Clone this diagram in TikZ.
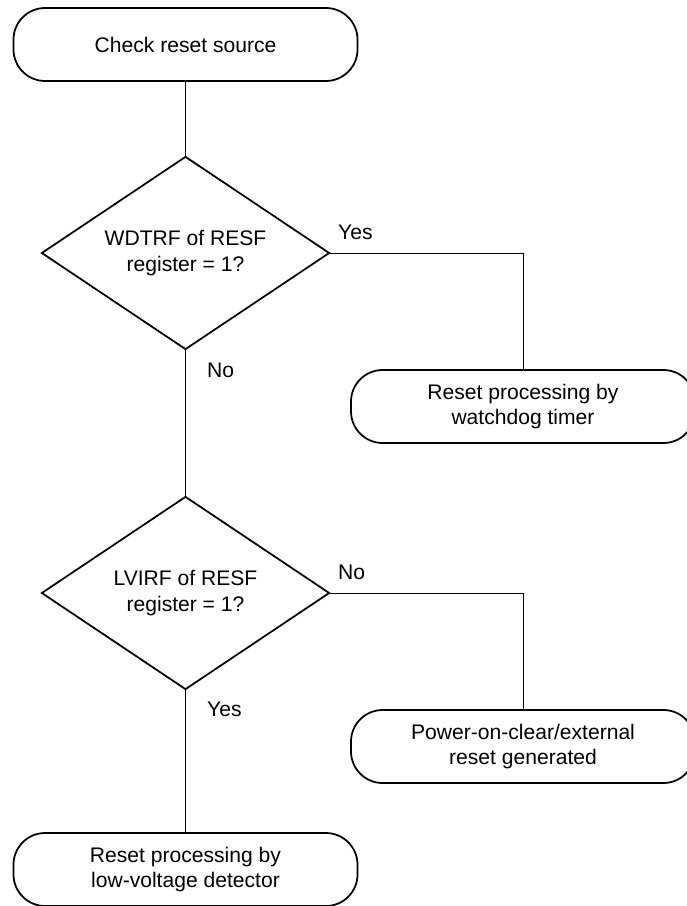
\documentclass[tikz,border=0pt]{standalone}
\usepackage{fontspec}
\setmainfont{Liberation Sans}
\usetikzlibrary{shapes.geometric}

\tikzset{
  term/.style={draw, line width=1.5pt, rounded corners=27pt, minimum width=10.32cm,
    minimum height=2.19cm, align=center, inner sep=0pt},
  decide/.style={draw, diamond, aspect=1.5, line width=1.5pt, minimum width=8.64cm,
    minimum height=5.79cm, align=center, inner sep=0pt},
  flow/.style={line width=0.7pt},
  tag/.style={anchor=west, inner sep=0pt},
}

\begin{document}
\begin{tikzpicture}[x=0.03cm, y=-0.03cm, font=\fontsize{18}{21.5}\selectfont]
\useasboundingbox (0,0) rectangle (686,906);
% boxes
\node[term] (check) at (185.5,44.5) {Check reset source};
\node[decide] (wdt) at (185.5,253) {WDTRF of RESF\\register = 1?};
\node[term] (wdtreset) at (523,406.5) {Reset processing by\\watchdog timer};
\node[decide] (lvi) at (185.5,593) {LVIRF of RESF\\register = 1?};
\node[term] (poc) at (523,746.5) {Power-on-clear/external\\reset generated};
\node[term] (lvireset) at (185.5,869.5) {Reset processing by\\low-voltage detector};
% branch labels
\node[tag] (yes1) at (338,232) {Yes};
\node[tag] (no1) at (207,370) {No};
\node[tag] (no2) at (338,572) {No};
\node[tag] (yes2) at (207,709) {Yes};
% lines
\draw[flow] (check) -- (wdt);
\draw[flow] (wdt.east) -| (wdtreset);
\draw[flow] (wdt) -- (lvi);
\draw[flow] (lvi.east) -| (poc);
\draw[flow] (lvi) -- (lvireset);
\end{tikzpicture}
\end{document}
